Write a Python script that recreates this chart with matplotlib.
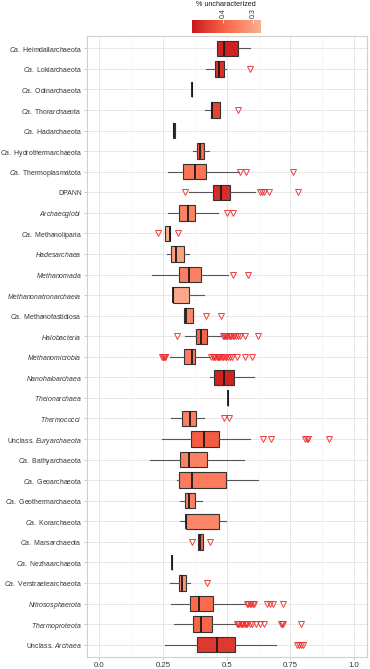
import matplotlib
matplotlib.use('Agg')
import matplotlib.pyplot as plt
import numpy as np
from matplotlib.colors import LinearSegmentedColormap, Normalize

plt.rcParams['font.family'] = ['Liberation Sans', 'DejaVu Sans']
plt.rcParams['mathtext.fontset'] = 'custom'
plt.rcParams['mathtext.rm'] = 'Liberation Sans'
plt.rcParams['mathtext.it'] = 'Liberation Sans:italic'

labels = [
    r"$\mathit{Ca.}$ Heimdallarchaeota",
    r"$\mathit{Ca.}$ Lokiarchaeota",
    r"$\mathit{Ca.}$ Odinarchaeota",
    r"$\mathit{Ca.}$ Thorarchaeota",
    r"$\mathit{Ca.}$ Hadarchaeota",
    r"$\mathit{Ca.}$ Hydrothermarchaeota",
    r"$\mathit{Ca.}$ Thermoplasmatota",
    "DPANN",
    r"$\mathit{Archaeoglobi}$",
    r"$\mathit{Ca.}$ Methanoliparia",
    r"$\mathit{Hadesarchaea}$",
    r"$\mathit{Methanomada}$",
    r"$\mathit{Methanonatronarchaeia}$",
    r"$\mathit{Ca.}$ Methanofastidiosa",
    r"$\mathit{Halobacteria}$",
    r"$\mathit{Methanomicrobia}$",
    r"$\mathit{Nanohaloarchaea}$",
    r"$\mathit{Theionarchaea}$",
    r"$\mathit{Thermococci}$",
    r"Unclass. $\mathit{Euryarchaeota}$",
    r"$\mathit{Ca.}$ Bathyarchaeota",
    r"$\mathit{Ca.}$ Geoarchaeota",
    r"$\mathit{Ca.}$ Geothermarchaeota",
    r"$\mathit{Ca.}$ Korarchaeota",
    r"$\mathit{Ca.}$ Marsarchaeota",
    r"$\mathit{Ca.}$ Nezhaarchaeota",
    r"$\mathit{Ca.}$ Verstraetearchaeota",
    r"$\mathit{Nitrososphaerota}$",
    r"$\mathit{Thermoproteota}$",
    r"Unclass. $\mathit{Archaea}$",
]

q1 = [0.462, 0.453, 0.362, 0.439, 0.290, 0.382, 0.329, 0.445, 0.314, 0.259,
      0.281, 0.314, 0.288, 0.333, 0.381, 0.332, 0.452, 0.505, 0.326, 0.359,
      0.315, 0.313, 0.336, 0.339, 0.388, 0.284, 0.3125, 0.355, 0.367, 0.384]
med = [0.491, 0.468, 0.362, 0.443, 0.293, 0.395, 0.374, 0.477, 0.349, 0.276,
       0.301, 0.353, 0.289, 0.342, 0.400, 0.362, 0.491, 0.505, 0.355, 0.410,
       0.352, 0.362, 0.352, 0.342, 0.397, 0.284, 0.325, 0.391, 0.398, 0.460]
q3 = [0.544, 0.489, 0.362, 0.475, 0.295, 0.410, 0.417, 0.514, 0.376, 0.279,
      0.333, 0.398, 0.350, 0.367, 0.423, 0.375, 0.527, 0.505, 0.379, 0.470,
      0.423, 0.499, 0.374, 0.469, 0.407, 0.284, 0.341, 0.446, 0.444, 0.531]
wlo = [0.462, 0.417, 0.362, 0.414, 0.290, 0.368, 0.271, 0.352, 0.271, 0.259,
       0.264, 0.208, 0.288, 0.333, 0.336, 0.276, 0.436, 0.505, 0.282, 0.245,
       0.198, 0.303, 0.315, 0.315, 0.388, 0.284, 0.276, 0.282, 0.293, 0.258]
whi = [0.593, 0.499, 0.362, 0.475, 0.295, 0.432, 0.547, 0.612, 0.466, 0.279,
       0.352, 0.504, 0.409, 0.367, 0.479, 0.436, 0.607, 0.505, 0.409, 0.593,
       0.566, 0.621, 0.404, 0.497, 0.407, 0.284, 0.354, 0.573, 0.536, 0.693]
outliers = [
    [],
    [0.593],
    [],
    [0.544],
    [],
    [],
    [0.553, 0.577, 0.761],
    [0.338, 0.629, 0.638, 0.647, 0.667, 0.781],
    [0.503, 0.525],
    [0.230, 0.309],
    [],
    [0.523, 0.583],
    [],
    [0.419, 0.479],
    [0.306, 0.484, 0.488, 0.492, 0.497, 0.503, 0.508, 0.512, 0.518, 0.523,
     0.530, 0.537, 0.545, 0.552, 0.573, 0.622],
    [0.247, 0.250, 0.253, 0.256, 0.259, 0.440, 0.445, 0.450, 0.455, 0.460,
     0.465, 0.470, 0.475, 0.480, 0.486, 0.492, 0.498, 0.505, 0.512, 0.520,
     0.540, 0.570, 0.599],
    [],
    [],
    [0.488, 0.508],
    [0.641, 0.674, 0.807, 0.815, 0.820, 0.902],
    [],
    [],
    [],
    [],
    [0.362, 0.436],
    [],
    [0.423],
    [0.578, 0.584, 0.590, 0.596, 0.602, 0.608, 0.658, 0.672, 0.680, 0.721],
    [0.540, 0.545, 0.550, 0.555, 0.560, 0.565, 0.570, 0.575, 0.580, 0.590,
     0.600, 0.615, 0.630, 0.648, 0.712, 0.716, 0.720, 0.793],
    [0.775, 0.785, 0.792, 0.800],
]

xticks = [0.0, 0.25, 0.5, 0.75, 1.0]
xticklabels = ["0.0", "0.25", "0.5", "0.75", "1.0"]
cbar_ticks = [0.4, 0.3]

W, H = 370, 669
fig = plt.figure(figsize=(W / 100, H / 100), dpi=100)
ax = fig.add_axes([86.7 / W, 1 - 657 / H, (366.7 - 86.7) / W, (657 - 36) / H])

cmap = LinearSegmentedColormap.from_list('unc', ['#fcae91', '#fb6a4a', '#cb181d'])
norm = Normalize(min(med), max(med))

n = len(labels)
stats = []
for i in range(n):
    stats.append(dict(med=med[i], q1=q1[i], q3=q3[i], whislo=wlo[i], whishi=whi[i],
                      fliers=outliers[i], label=labels[i]))

bp = ax.bxp(stats, positions=np.arange(n), orientation='horizontal', widths=0.75,
            patch_artist=True, showcaps=False,
            boxprops=dict(edgecolor='#333333', linewidth=0.8),
            whiskerprops=dict(color='#555555', linewidth=0.8),
            medianprops=dict(color='#1a1a1a', linewidth=1.3),
            flierprops=dict(marker='v', markersize=4.2, markerfacecolor='none',
                            markeredgecolor='#ee2a2a', markeredgewidth=0.7, alpha=0.9))
for i, patch in enumerate(bp['boxes']):
    patch.set_facecolor(cmap(norm(med[i])))

ax.set_xlim(-0.05, 1.05)
ax.set_ylim(n - 1 + 0.6, -0.6)
ax.set_xticks(xticks)
ax.set_xticklabels(xticklabels)
ax.set_xticks([0.125, 0.375, 0.625, 0.875], minor=True)
ax.set_yticks(np.arange(n))
ax.set_yticklabels(labels)
ax.set_axisbelow(True)
ax.grid(which='major', color='#e3e3e3', linewidth=0.6)
ax.grid(which='minor', axis='x', color='#efefef', linewidth=0.4)
ax.tick_params(axis='both', which='major', length=2, width=0.5, color='#b3b3b3',
               labelcolor='#333333', pad=1.5)
ax.tick_params(axis='y', labelsize=4.95)
ax.tick_params(axis='x', labelsize=5.6)
ax.tick_params(which='minor', length=0)
for sp in ax.spines.values():
    sp.set_color('#d0d0d0')
    sp.set_linewidth(0.8)

# colourbar legend
cax = fig.add_axes([191.7 / W, 1 - 33 / H, (260.5 - 191.7) / W, 13 / H])
grad = np.linspace(min(med), max(med), 256).reshape(1, -1)
cax.imshow(grad, aspect='auto', cmap=cmap, norm=norm,
           extent=[min(med), max(med), 0, 1])
cax.set_xlim(max(med), min(med))
cax.set_ylim(0, 1)
cax.set_yticks([])
cax.xaxis.tick_top()
cax.set_xticks(cbar_ticks)
cax.set_xticklabels([str(t) for t in cbar_ticks], rotation=90, fontsize=5.0, color='#333333')
cax.tick_params(axis='x', direction='in', length=2.5, color='white', width=0.5, pad=1.2)
for sp in cax.spines.values():
    sp.set_visible(False)
fig.text(226 / W, 1 - 4 / H, "% uncharacterized", ha='center', va='center',
         fontsize=5.2, color='#1a1a1a')

fig.savefig('out.png', dpi=100)
